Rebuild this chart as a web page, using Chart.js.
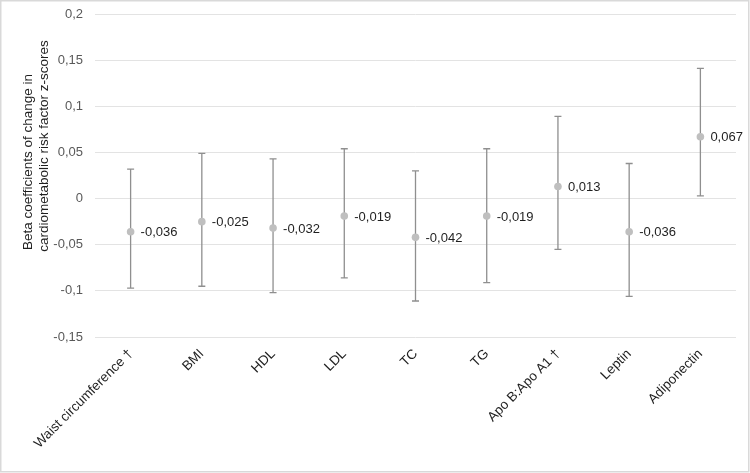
<!DOCTYPE html>
<html>
<head>
<meta charset="utf-8">
<script src="https://cdn.jsdelivr.net/npm/chart.js@4"></script>
<style>
  html, body { margin: 0; padding: 0; background: #fff; }
  #wrap { width: 750px; height: 473px; position: relative; }
</style>
</head>
<body>
<div id="wrap"><canvas id="c" width="750" height="473"></canvas></div>
<script>
const categories = ["Waist circumference \u2020", "BMI", "HDL", "LDL", "TC", "TG", "Apo B:Apo A1 \u2020", "Leptin", "Adiponectin"];
const betas = [-0.036, -0.025, -0.032, -0.019, -0.042, -0.019, 0.013, -0.036, 0.067];
const upperCI = [0.032, 0.049, 0.043, 0.054, 0.030, 0.054, 0.089, 0.038, 0.141];
const lowerCI = [-0.097, -0.095, -0.102, -0.086, -0.111, -0.091, -0.055, -0.106, 0.003];
const yTitleLines = ["Beta coefficients of change in", "cardiometabolic risk factor z-scores"];

const FONT = "'Liberation Sans', Arial, sans-serif";
const fmt = v => String(+Number(v).toFixed(3)).replace('.', ',');

const errorBars = {
  id: 'errorBars',
  beforeDatasetsDraw(chart) {
    const ctx = chart.ctx, x = chart.scales.x, y = chart.scales.y;
    ctx.save();
    ctx.strokeStyle = '#8f8f8f';
    ctx.lineWidth = 1.3;
    betas.forEach((b, i) => {
      const px = x.getPixelForValue(i);
      const yt = y.getPixelForValue(upperCI[i]);
      const yb = y.getPixelForValue(lowerCI[i]);
      ctx.beginPath();
      ctx.moveTo(px, yt); ctx.lineTo(px, yb);
      ctx.moveTo(px - 3.5, yt); ctx.lineTo(px + 3.5, yt);
      ctx.moveTo(px - 3.5, yb); ctx.lineTo(px + 3.5, yb);
      ctx.stroke();
    });
    ctx.restore();
  },
  afterDatasetsDraw(chart) {
    const ctx = chart.ctx, x = chart.scales.x, y = chart.scales.y;
    ctx.save();
    ctx.fillStyle = '#1f1f1f';
    ctx.font = '13px ' + FONT;
    ctx.textAlign = 'left';
    ctx.textBaseline = 'middle';
    betas.forEach((b, i) => {
      ctx.fillText(fmt(b), x.getPixelForValue(i) + 10, y.getPixelForValue(b) + 1);
    });
    ctx.restore();
  },
  afterDraw(chart) {
    const ctx = chart.ctx;
    ctx.save();
    ctx.fillStyle = '#1f1f1f';
    ctx.font = '13.5px ' + FONT;
    ctx.textAlign = 'center';
    ctx.textBaseline = 'middle';
    const pos = [[28, 162], [44, 146]];
    yTitleLines.forEach((t, i) => {
      ctx.save();
      ctx.translate(pos[i][0], pos[i][1]);
      ctx.rotate(-Math.PI / 2);
      ctx.fillText(t, 0, 0);
      ctx.restore();
    });
    ctx.strokeStyle = '#d9d9d9';
    ctx.lineWidth = 1.5;
    ctx.strokeRect(0.75, 0.75, 748, 471);
    ctx.restore();
  }
};

new Chart(document.getElementById('c'), {
  type: 'line',
  data: {
    labels: categories,
    datasets: [{
      data: betas,
      showLine: false,
      pointRadius: 3.8,
      pointHoverRadius: 3.8,
      pointBackgroundColor: '#bfbfbf',
      pointBorderColor: '#bfbfbf',
      pointBorderWidth: 0
    }]
  },
  options: {
    responsive: false,
    animation: false,
    events: [],
    layout: { padding: { left: 0, right: 14, top: 14, bottom: 0 } },
    plugins: { legend: { display: false }, tooltip: { enabled: false } },
    scales: {
      x: {
        offset: true,
        grid: { display: false, drawTicks: false },
        border: { display: false },
        ticks: {
          color: '#1f1f1f',
          font: { family: FONT, size: 13.5 },
          maxRotation: 45, minRotation: 45,
          autoSkip: false,
          padding: 9
        },
        afterFit(s) { s.height = 473 - 337; s.paddingLeft = 0; s.paddingRight = 0; }
      },
      y: {
        min: -0.15, max: 0.2,
        grid: { color: '#e3e3e3', lineWidth: 1, drawTicks: false },
        border: { display: false },
        ticks: {
          stepSize: 0.05,
          color: '#595959',
          font: { family: FONT, size: 13 },
          padding: 12,
          callback: v => fmt(v)
        },
        afterFit(s) { s.width = 95; s.paddingTop = 0; s.paddingBottom = 0; }
      }
    }
  },
  plugins: [errorBars]
});
</script>
</body>
</html>
